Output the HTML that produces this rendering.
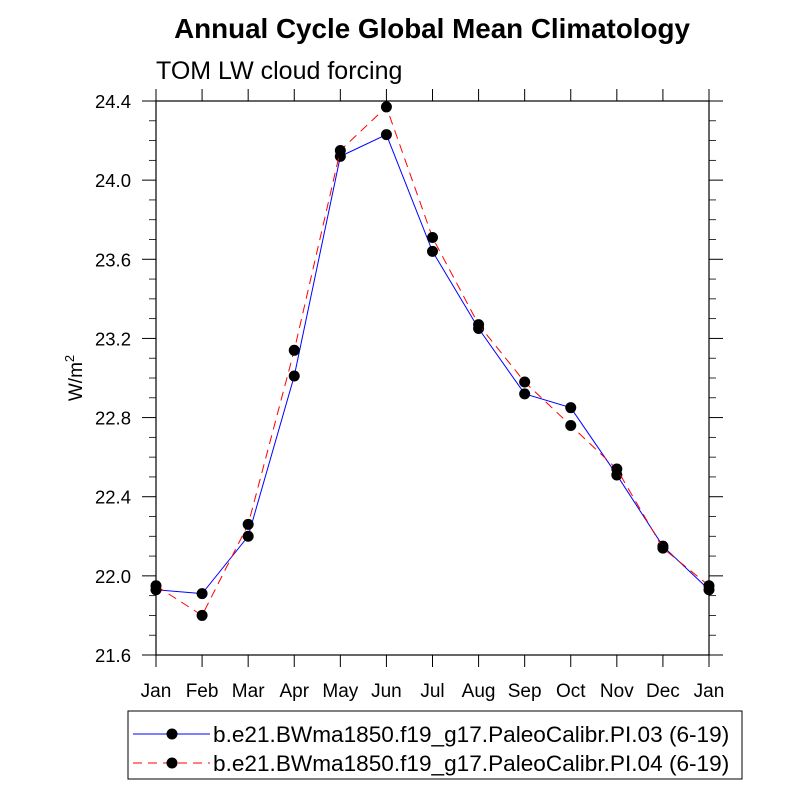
<!DOCTYPE html>
<html><head><meta charset="utf-8"><style>
body{margin:0;background:#fff}
svg text{font-family:"Liberation Sans",Arial,sans-serif;fill:#000}
</style></head><body>
<svg id="chart" width="800" height="800" xmlns="http://www.w3.org/2000/svg">
<text x="432" y="38" text-anchor="middle" font-size="27.8" font-weight="bold">Annual Cycle Global Mean Climatology</text>
<text x="156" y="79" font-size="25">TOM LW cloud forcing</text>
<text transform="translate(82,378) rotate(-90)" text-anchor="middle" font-size="19">W/m<tspan dy="-8" font-size="13">2</tspan></text>
<g id="axes"></g>
<g id="series"></g>
<g>
<rect x="128" y="711" width="614" height="68" fill="none" stroke="#000" stroke-width="1"/>
<line x1="133" y1="734" x2="210" y2="734" stroke="#00f" stroke-width="1"/>
<circle cx="172" cy="734" r="5.5" fill="#000"/>
<text x="213" y="742" font-size="22.6">b.e21.BWma1850.f19_g17.PaleoCalibr.PI.03 (6-19)</text>
<line x1="133" y1="763" x2="210" y2="763" stroke="#f00" stroke-width="1" stroke-dasharray="9,6"/>
<circle cx="172" cy="763" r="5.5" fill="#000"/>
<text x="213" y="771" font-size="22.6">b.e21.BWma1850.f19_g17.PaleoCalibr.PI.04 (6-19)</text>
</g>
</svg>
<script>
const months = ["Jan","Feb","Mar","Apr","May","Jun","Jul","Aug","Sep","Oct","Nov","Dec","Jan"];
const pi03 = [21.93,21.91,22.20,23.01,24.12,24.23,23.64,23.25,22.92,22.85,22.51,22.15,21.93];
const pi04 = [21.95,21.80,22.26,23.14,24.15,24.37,23.71,23.27,22.98,22.76,22.54,22.14,21.95];
const yTicks = ["21.6","22.0","22.4","22.8","23.2","23.6","24.0","24.4"];
const L=156,R=709,T=101,B=655,yMin=21.6,yMax=24.4;
function xs(i){return L+(R-L)*i/(months.length-1);}
function ys(v){return B-(v-yMin)/(yMax-yMin)*(B-T);}
const NS="http://www.w3.org/2000/svg";
function mk(tag,attrs,parent){const e=document.createElementNS(NS,tag);for(const k in attrs)e.setAttribute(k,attrs[k]);parent.appendChild(e);return e;}
const ax=document.getElementById('axes');
const frame=mk('rect',{x:L,y:T,width:R-L,height:B-T,fill:'none',stroke:'#000','stroke-width':1.2},ax);


months.forEach((m,i)=>{
  const x=xs(i);
  mk('line',{x1:x,y1:B,x2:x,y2:B+12,stroke:'#000'},ax);
  mk('line',{x1:x,y1:T,x2:x,y2:T-12,stroke:'#000'},ax);
  const t=mk('text',{x:x,y:B+42,'text-anchor':'middle','font-size':19},ax);
  t.textContent=m;
  
  
});
for(let k=0;k<=Math.round((yMax-yMin)/0.1);k++){
  const v=yMin+k*0.1;
  const y=ys(v);
  const major=k%4===0;
  const len=major?14:7;
  mk('line',{x1:L,y1:y,x2:L-len,y2:y,stroke:'#000','stroke-width':major?1:0.8},ax);
  mk('line',{x1:R,y1:y,x2:R+len,y2:y,stroke:'#000','stroke-width':major?1:0.8},ax);
}
yTicks.forEach(s=>{
  const t=mk('text',{x:131,y:ys(parseFloat(s))+7,'text-anchor':'end','font-size':18.5},ax);
  t.textContent=s;
  
  
});
const sg=document.getElementById('series');
function series(vals,color,dash,name){
  const pts=vals.map((v,i)=>xs(i)+','+ys(v)).join(' ');
  const pl=mk('polyline',{points:pts,fill:'none',stroke:color,'stroke-width':1,'stroke-dasharray':dash},sg);
  
  
  vals.forEach((v,i)=>{
    const c=mk('circle',{cx:xs(i),cy:ys(v),r:5.5,fill:'#000'},sg);
    
    
  });
}
series(pi03,'#00f','none','pi03');
series(pi04,'#f00','9,6','pi04');
</script>
</body></html>
